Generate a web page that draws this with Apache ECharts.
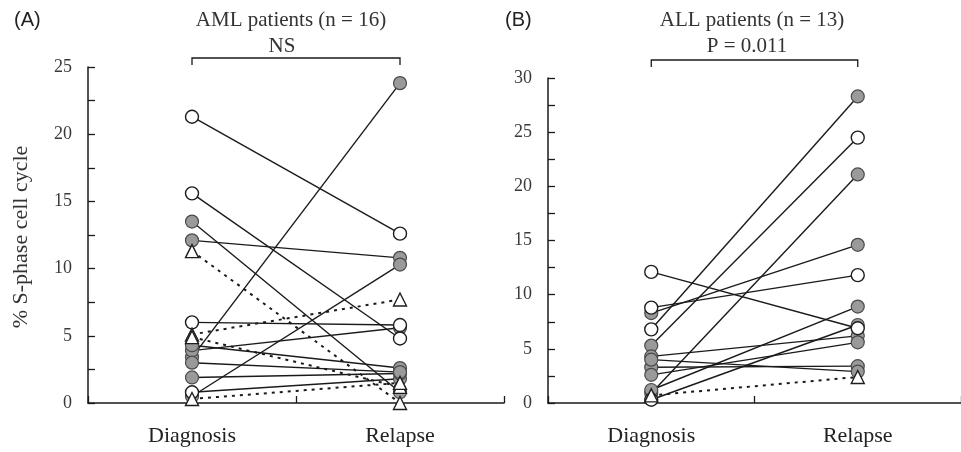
<!DOCTYPE html>
<html>
<head>
<meta charset="utf-8">
<script src="https://cdn.jsdelivr.net/npm/echarts@6/dist/echarts.min.js"></script>
<style>
  html, body { margin: 0; padding: 0; background: #fff; }
  #chart { width: 961px; height: 452px; }
</style>
</head>
<body>
<div id="chart"></div>
<script>
// categories on the x axis of both panels
const categories = ['Diagnosis', 'Relapse']

// AML panel: one entry per patient
// marker codes: o = open circle, g = grey circle, t = open triangle (dotted line)
const amlDiagnosis = [21.3, 15.6, 6.0, 0.8, 13.5, 12.1, 0.5, 3.4, 3.9, 4.3, 1.9, 3.0, 11.3, 5.1, 4.9, 0.3]
const amlRelapse = [12.6, 4.8, 5.8, 1.8, 0.8, 10.8, 10.3, 23.8, 5.6, 2.6, 2.2, 2.3, 0.0, 7.7, 1.2, 1.5]
const amlDiagMarker = ['o', 'o', 'o', 'o', 'g', 'g', 'g', 'g', 'g', 'g', 'g', 'g', 't', 't', 't', 't']
const amlRelMarker = ['o', 'o', 'o', 'g', 'g', 'g', 'g', 'g', 'g', 'g', 'g', 'g', 't', 't', 't', 't']

// ALL panel
const allDiagnosis = [6.8, 5.3, 0.9, 8.3, 8.8, 12.1, 0.7, 1.2, 0.3, 4.3, 3.3, 4.0, 2.6]
const allRelapse = [28.3, 24.5, 21.1, 14.6, 11.8, 6.9, 2.4, 8.9, 7.2, 6.2, 3.4, 2.9, 5.6]
const allDiagMarker = ['o', 'g', 'g', 'g', 'o', 'o', 't', 'g', 'o', 'g', 'g', 'g', 'g']
const allRelMarker = ['g', 'o', 'g', 'g', 'o', 'o', 't', 'g', 'g', 'g', 'g', 'g', 'g']

// axis ranges and text
const amlYMax = 25
const allYMax = 30
const yStep = 2.5
const panelLabels = ['(A)', '(B)']
const panelTitles = ['AML patients (n = 16)', 'ALL patients (n = 13)']
const panelStats = ['NS', 'P = 0.011']
const yAxisTitle = '% S-phase cell cycle'

const serif = '"Liberation Serif", "DejaVu Serif", serif'
const markerStyles = {
  o: { symbol: 'circle', size: 13, color: '#fff', border: '#1e1e1e', bw: 1.4 },
  g: { symbol: 'circle', size: 13, color: '#9a9a9a', border: '#4a4a4a', bw: 1.2 },
  t: { symbol: 'triangle', size: 13, color: '#fff', border: '#1e1e1e', bw: 1.4 }
}

function buildPanel(idx, diag, rel, diagMarker, relMarker) {
  const series = []
  for (let i = 0; i < diag.length; i++) {
    const dotted = diagMarker[i] === 't'
    series.push({
      type: 'line',
      xAxisIndex: idx,
      yAxisIndex: idx,
      data: [diag[i], rel[i]],
      symbol: 'none',
      z: 2,
      silent: true,
      lineStyle: {
        color: '#1a1a1a',
        width: dotted ? 2 : 1.4,
        type: dotted ? [3, 5] : 'solid'
      }
    })
  }
  // markers: grey first, then open, then triangles on top
  const order = ['g', 'o', 't']
  order.forEach((code, k) => {
    const pts = []
    for (let i = 0; i < diag.length; i++) {
      if (diagMarker[i] === code) pts.push([0, diag[i]])
      if (relMarker[i] === code) pts.push([1, rel[i]])
    }
    const m = markerStyles[code]
    series.push({
      type: 'scatter',
      xAxisIndex: idx,
      yAxisIndex: idx,
      data: pts,
      symbol: m.symbol,
      symbolSize: m.size,
      z: 3 + k,
      itemStyle: { color: m.color, borderColor: m.border, borderWidth: m.bw, opacity: 1 }
    })
  })
  return series
}

function yAxisFor(idx, max) {
  return {
    type: 'value',
    gridIndex: idx,
    min: 0,
    max: max,
    interval: yStep,
    axisLine: { show: true, lineStyle: { color: '#1a1a1a', width: 1.5 } },
    axisTick: { show: true, inside: true, length: 7, lineStyle: { color: '#1a1a1a', width: 1.3 } },
    splitLine: { show: false },
    axisLabel: {
      margin: 16,
      fontFamily: serif,
      fontSize: 18,
      color: '#3a3a3a',
      formatter: v => (v % 5 === 0 ? String(v) : '')
    }
  }
}

function xAxisFor(idx) {
  return {
    type: 'category',
    gridIndex: idx,
    data: categories,
    boundaryGap: true,
    axisLine: { show: true, lineStyle: { color: '#1a1a1a', width: 1.5 } },
    axisTick: { show: true, inside: true, length: 7, lineStyle: { color: '#1a1a1a', width: 1.3 } },
    axisLabel: { margin: 22, fontFamily: serif, fontSize: 22, color: '#222' }
  }
}

const chart = echarts.init(document.getElementById('chart'))

const option = {
  backgroundColor: '#fff',
  animation: false,
  grid: [
    { left: 88, top: 67, width: 416, height: 336 },
    { left: 548, top: 78, width: 420, height: 325 }
  ],
  xAxis: [xAxisFor(0), xAxisFor(1)],
  yAxis: [yAxisFor(0, amlYMax), yAxisFor(1, allYMax)],
  series: [].concat(
    buildPanel(0, amlDiagnosis, amlRelapse, amlDiagMarker, amlRelMarker),
    buildPanel(1, allDiagnosis, allRelapse, allDiagMarker, allRelMarker)
  )
}
chart.setOption(option)

// headings, y-axis title and comparison brackets
const graphics = []
const headX = [291, 752]
const statX = [282, 747]
const labelX = [14, 505]
const bracketY = [58, 60]
for (let p = 0; p < 2; p++) {
  graphics.push({
    type: 'text', left: labelX[p], top: 10,
    style: { text: panelLabels[p], font: '20px "Liberation Sans", Arial, sans-serif', fill: '#222' }
  })
  graphics.push({
    type: 'text', x: headX[p], y: 20,
    style: { text: panelTitles[p], font: '21px ' + serif, fill: '#333', textAlign: 'center', textVerticalAlign: 'middle' }
  })
  graphics.push({
    type: 'text', x: statX[p], y: 46,
    style: { text: panelStats[p], font: '21px ' + serif, fill: '#333', textAlign: 'center', textVerticalAlign: 'middle' }
  })
  const x0 = chart.convertToPixel({ gridIndex: p }, [0, 0])[0]
  const x1 = chart.convertToPixel({ gridIndex: p }, [1, 0])[0]
  const y = bracketY[p]
  graphics.push({
    type: 'polyline',
    shape: { points: [[x0, y + 7], [x0, y], [x1, y], [x1, y + 7]] },
    style: { stroke: '#1a1a1a', lineWidth: 1.3, fill: null }
  })
}
graphics.push({
  type: 'text', x: 21, y: 237, rotation: Math.PI / 2,
  style: { text: yAxisTitle, font: '22px ' + serif, fill: '#333', textAlign: 'center', textVerticalAlign: 'middle' }
})
chart.setOption({ graphic: graphics })
</script>
</body>
</html>
